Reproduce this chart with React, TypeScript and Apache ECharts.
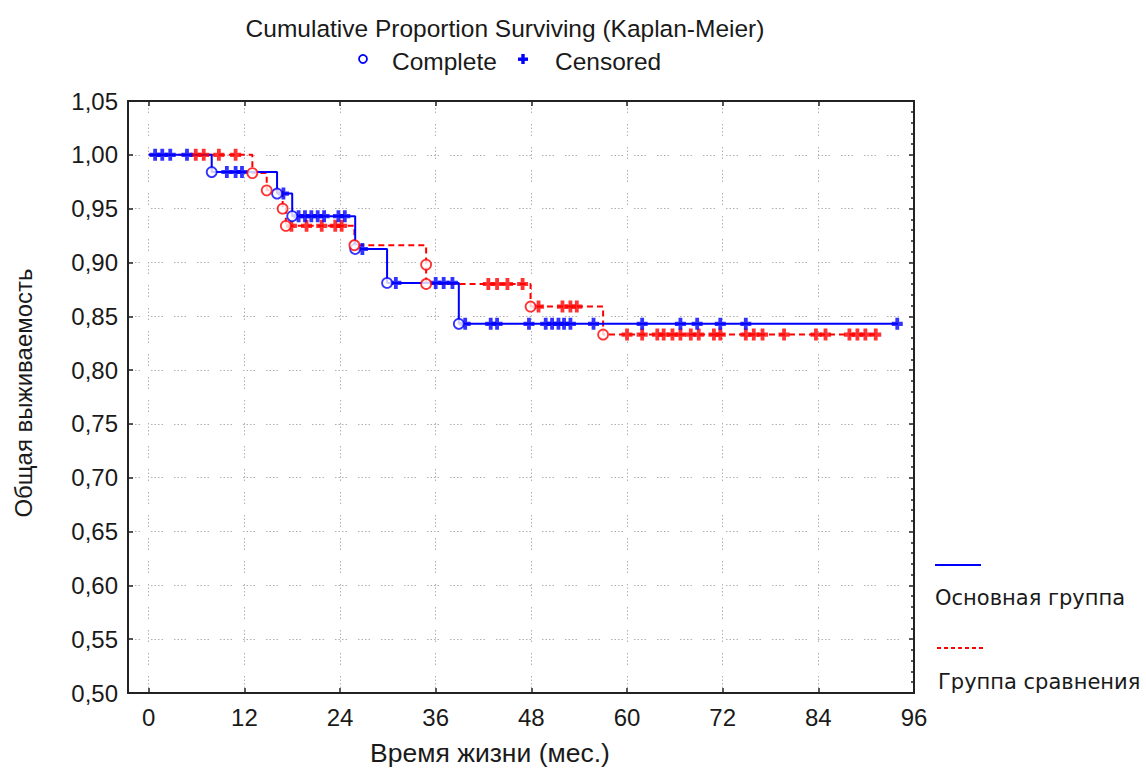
import React, { useEffect, useRef } from "react";
import * as echarts from "echarts";

// Axis ticks
const xTicks = [0, 12, 24, 36, 48, 60, 72, 84, 96];

// Основная группа: event (death) times and survival after each event
const mainEventTimes = [7.9, 16.1, 18.0, 25.9, 29.9, 38.9];
const mainEventSurvival = [0.984, 0.964, 0.943, 0.9125, 0.881, 0.843];
const mainEndTime = 94.0;
const mainCensoredTimes = [
  0.8, 1.7, 2.7, 4.8, 9.8, 10.9, 11.7, 16.9, 18.8, 19.6, 20.4, 21.2, 22.0, 23.8,
  24.6, 26.8, 31.0, 36.0, 37.0, 38.1, 39.7, 42.9, 43.7, 47.7, 49.8, 50.6, 51.4,
  52.1, 52.9, 55.8, 61.9, 66.7, 68.8, 71.7, 74.9, 93.9,
];

// Группа сравнения
const compEventTimes = [13.0, 14.8, 16.8, 17.2, 25.8, 34.8, 34.8, 47.9, 57.0];
const compEventSurvival = [0.983, 0.967, 0.95, 0.934, 0.916, 0.898, 0.88, 0.859, 0.833];
const compEndTime = 91.2;
const compCensoredTimes = [
  5.9, 6.9, 8.8, 10.9, 17.9, 19.8, 21.7, 23.4, 24.2, 42.6, 43.7, 45.0, 46.9,
  48.9, 51.9, 52.9, 53.7, 60.0, 61.9, 63.8, 64.6, 65.7, 66.7, 68.0, 69.0, 70.9,
  71.7, 74.9, 75.9, 77.0, 79.7, 83.7, 84.9, 87.9, 88.9, 89.9, 91.2,
];

const BLUE = "#0000ff";
const RED = "#ff0000";
const TEXT = "#1a1a1a";
const FONT = '"Liberation Sans", Arial, sans-serif';
const FONT_RU = '"DejaVu Sans", Verdana, sans-serif';
const PLUS = "path://M3.6,0h3.8v3.6h3.6v3.8h-3.6v3.6h-3.8v-3.6h-3.6v-3.8h3.6z";

function survivalAt(times: number[], values: number[], t: number): number {
  let s = 1;
  for (let i = 0; i < times.length; i++) {
    if (times[i] <= t) s = values[i];
  }
  return s;
}

function stepCurve(times: number[], values: number[], end: number) {
  const pts: number[][] = [[0, 1]];
  times.forEach((t, i) => pts.push([t, values[i]]));
  pts.push([end, values[values.length - 1]]);
  return pts;
}

const gridLine = {
  color: "#b0b0b0",
  width: 1,
  type: [1.5, 2, 1.5, 2, 1.5, 2, 1.5, 11] as number[],
};

function buildOption() {
  const completeData: any[] = [];
  mainEventTimes.forEach((t, i) =>
    completeData.push({ value: [t, mainEventSurvival[i]], itemStyle: { borderColor: BLUE } })
  );
  compEventTimes.forEach((t, i) =>
    completeData.push({ value: [t, compEventSurvival[i]], itemStyle: { borderColor: RED } })
  );

  const censoredComp = compCensoredTimes.map((t) => ({
    value: [t, survivalAt(compEventTimes, compEventSurvival, t)],
    itemStyle: { color: RED },
  }));
  const censoredMain = mainCensoredTimes.map((t) => ({
    value: [t, survivalAt(mainEventTimes, mainEventSurvival, t)],
    itemStyle: { color: BLUE },
  }));

  return {
    animation: false,
    backgroundColor: "#ffffff",
    grid: { left: 128, right: 232, top: 101, bottom: 80, containLabel: false },
    xAxis: [
      {
        type: "value",
        position: "bottom",
        min: -2.6,
        max: 96,
        axisLine: { show: true, onZero: false, lineStyle: { color: "#222", width: 2 } },
        axisTick: {
          show: true,
          inside: true,
          length: 5,
          customValues: xTicks,
          lineStyle: { color: "#222", width: 1.5 },
        },
        axisLabel: {
          customValues: xTicks,
          margin: 12,
          fontSize: 24,
          color: TEXT,
          fontFamily: FONT,
        },
        splitLine: { show: true, lineStyle: gridLine },
      },
      {
        type: "value",
        position: "top",
        min: -2.6,
        max: 96,
        axisLine: { show: true, onZero: false, lineStyle: { color: "#222", width: 2 } },
        axisTick: {
          show: true,
          inside: true,
          length: 5,
          customValues: xTicks,
          lineStyle: { color: "#222", width: 1.5 },
        },
        axisLabel: { show: false },
        splitLine: { show: false },
      },
    ],
    yAxis: [
      {
        type: "value",
        position: "left",
        min: 0.5,
        max: 1.05,
        interval: 0.05,
        axisLine: { show: true, onZero: false, lineStyle: { color: "#222", width: 2 } },
        axisTick: { show: true, inside: true, length: 5, lineStyle: { color: "#222", width: 1.5 } },
        axisLabel: {
          margin: 10,
          fontSize: 24,
          color: TEXT,
          fontFamily: FONT,
          formatter: (v: number) => v.toFixed(2).replace(".", ","),
        },
        splitLine: { show: true, lineStyle: gridLine },
      },
      {
        type: "value",
        position: "right",
        min: 0.5,
        max: 1.05,
        interval: 0.05,
        axisLine: { show: true, onZero: false, lineStyle: { color: "#222", width: 2 } },
        axisTick: { show: true, inside: true, length: 5, lineStyle: { color: "#222", width: 1.5 } },
        minorTick: { show: true, splitNumber: 5, length: 3, lineStyle: { color: "#222", width: 1.5 } },
        axisLabel: { show: false },
        splitLine: { show: false },
      },
    ],
    series: [
      {
        name: "Группа сравнения",
        type: "line",
        step: "end",
        data: stepCurve(compEventTimes, compEventSurvival, compEndTime),
        showSymbol: false,
        lineStyle: { color: RED, width: 2, type: [6, 4] },
        z: 2,
      },
      {
        name: "Основная группа",
        type: "line",
        step: "end",
        data: stepCurve(mainEventTimes, mainEventSurvival, mainEndTime),
        showSymbol: false,
        lineStyle: { color: BLUE, width: 2 },
        z: 3,
      },
      {
        name: "Censored",
        type: "scatter",
        symbol: PLUS,
        symbolSize: [11, 12],
        data: [...censoredComp, ...censoredMain],
        itemStyle: { color: BLUE },
        z: 4,
      },
      {
        name: "Complete",
        type: "scatter",
        symbol: "circle",
        symbolSize: 10,
        data: completeData,
        itemStyle: { color: "#ffffff", borderColor: BLUE, borderWidth: 1.8 },
        z: 5,
      },
    ],
    graphic: [
      {
        type: "text",
        x: 505,
        y: 28,
        style: {
          text: "Cumulative Proportion Surviving (Kaplan-Meier)",
          font: `24.5px ${FONT}`,
          fill: TEXT,
          textAlign: "center",
          textVerticalAlign: "middle",
        },
      },
      {
        type: "circle",
        shape: { cx: 363, cy: 59, r: 4 },
        style: { fill: "#fff", stroke: BLUE, lineWidth: 1.8 },
      },
      {
        type: "text",
        x: 392,
        y: 61,
        style: {
          text: "Complete",
          font: `24.5px ${FONT}`,
          fill: TEXT,
          textAlign: "left",
          textVerticalAlign: "middle",
        },
      },
      {
        type: "rect",
        shape: { x: 518, y: 57.5, width: 10, height: 3.4 },
        style: { fill: BLUE },
      },
      {
        type: "rect",
        shape: { x: 521.3, y: 54, width: 3.4, height: 10 },
        style: { fill: BLUE },
      },
      {
        type: "text",
        x: 555,
        y: 61,
        style: {
          text: "Censored",
          font: `24.5px ${FONT}`,
          fill: TEXT,
          textAlign: "left",
          textVerticalAlign: "middle",
        },
      },
      {
        type: "text",
        x: 490,
        y: 753,
        style: {
          text: "Время жизни (мес.)",
          font: `26.5px ${FONT}`,
          fill: TEXT,
          textAlign: "center",
          textVerticalAlign: "middle",
        },
      },
      {
        type: "text",
        x: 23,
        y: 393,
        rotation: Math.PI / 2,
        style: {
          text: "Общая выживаемость",
          font: `24px ${FONT}`,
          fill: TEXT,
          textAlign: "center",
          textVerticalAlign: "middle",
        },
      },
      {
        type: "line",
        shape: { x1: 935, y1: 565, x2: 981, y2: 565 },
        style: { stroke: BLUE, lineWidth: 2 },
      },
      {
        type: "text",
        x: 935,
        y: 598,
        style: {
          text: "Основная группа",
          font: `21px ${FONT_RU}`,
          fill: TEXT,
          textAlign: "left",
          textVerticalAlign: "middle",
        },
      },
      {
        type: "line",
        shape: { x1: 937, y1: 648, x2: 984, y2: 648 },
        style: { stroke: RED, lineWidth: 2, lineDash: [4, 3] },
      },
      {
        type: "text",
        x: 938,
        y: 682,
        style: {
          text: "Группа сравнения",
          font: `21px ${FONT_RU}`,
          fill: TEXT,
          textAlign: "left",
          textVerticalAlign: "middle",
        },
      },
    ],
  };
}

export default function App() {
  const ref = useRef<HTMLDivElement>(null);

  useEffect(() => {
    document.body.style.margin = "0";
    document.body.style.overflow = "hidden";
    if (!ref.current) return;
    const chart = echarts.init(ref.current, null, { renderer: "svg" });
    chart.setOption(buildOption() as any);
    return () => chart.dispose();
  }, []);

  return <div ref={ref} style={{ width: 1146, height: 773 }} />;
}
